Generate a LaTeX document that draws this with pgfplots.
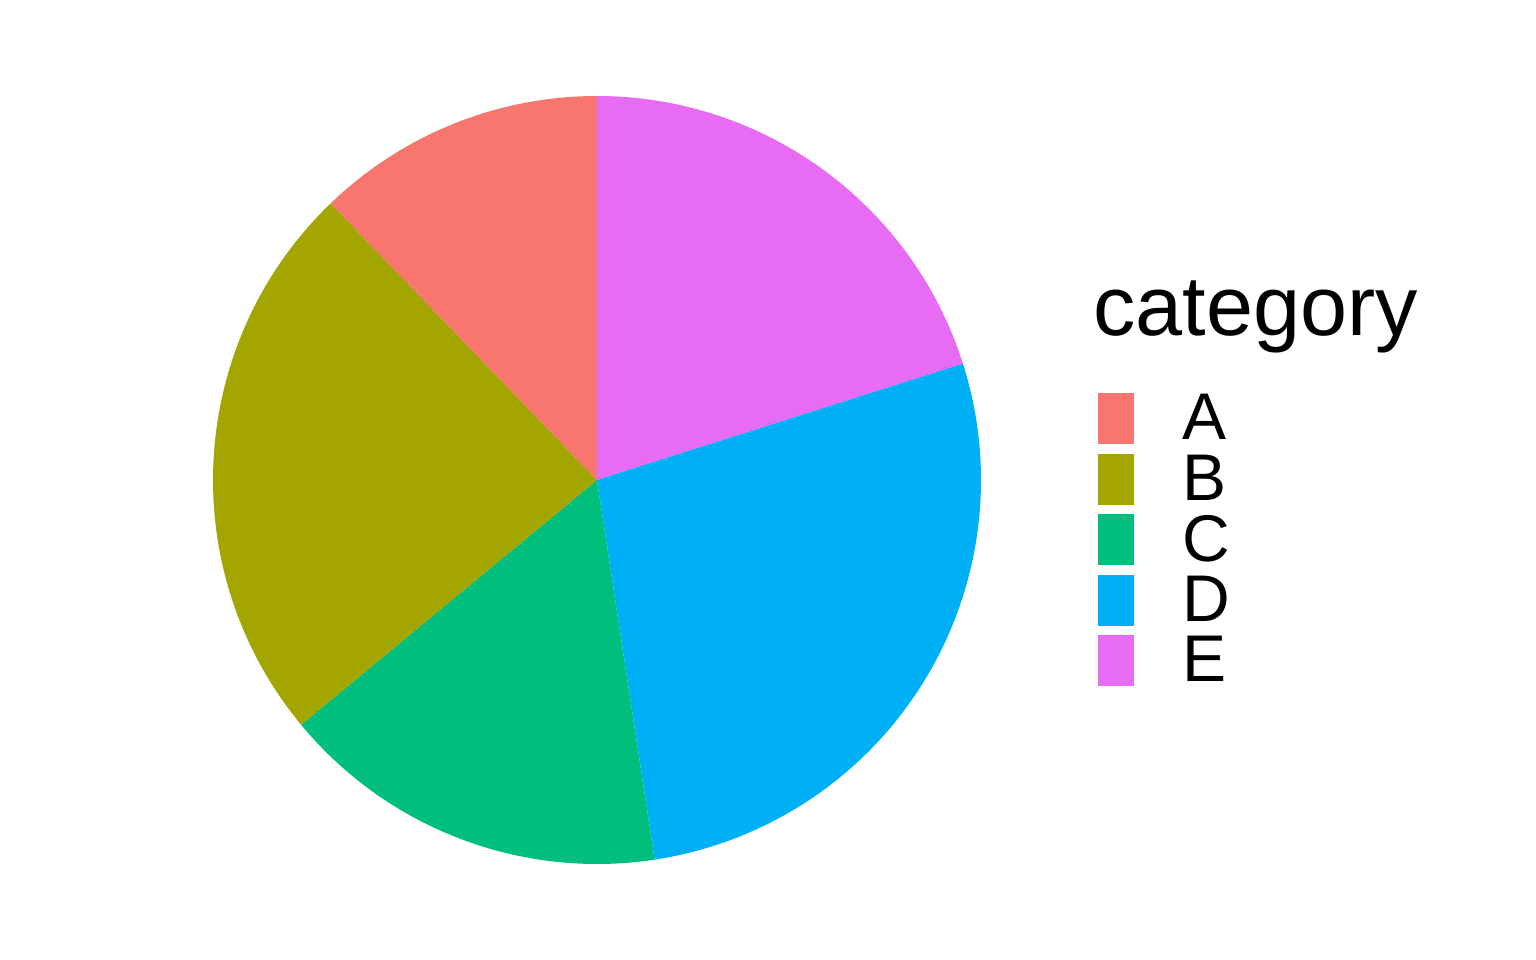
\documentclass[border=0pt]{standalone}
\usepackage{pgfplots}
\usepackage{pgfplotstable}
\pgfplotsset{compat=1.18}
\usepackage{fontspec}
\setmainfont{Liberation Sans}
\definecolor{colA}{HTML}{F8766D}
\definecolor{colB}{HTML}{A3A500}
\definecolor{colC}{HTML}{00BF7D}
\definecolor{colD}{HTML}{00B0F6}
\definecolor{colE}{HTML}{E76BF3}
\pgfplotstableread{
cat value
A 12.2
B 23.8
C 16.4
D 27.5
E 20.1
}\piedata
\pgfplotstablegetelem{0}{value}\of\piedata \let\valA\pgfplotsretval
\pgfplotstablegetelem{1}{value}\of\piedata \let\valB\pgfplotsretval
\pgfplotstablegetelem{2}{value}\of\piedata \let\valC\pgfplotsretval
\pgfplotstablegetelem{3}{value}\of\piedata \let\valD\pgfplotsretval
\pgfplotstablegetelem{4}{value}\of\piedata \let\valE\pgfplotsretval
\pgfmathsetmacro{\tot}{\valA+\valB+\valC+\valD+\valE}
% clockwise from 12 o'clock: E, D, C, B, A
\pgfmathsetmacro{\aE}{90}
\pgfmathsetmacro{\aD}{\aE-360*\valE/\tot}
\pgfmathsetmacro{\aC}{\aD-360*\valD/\tot}
\pgfmathsetmacro{\aB}{\aC-360*\valC/\tot}
\pgfmathsetmacro{\aA}{\aB-360*\valB/\tot}
\pgfmathsetmacro{\aEnd}{\aA-360*\valA/\tot}
\newcommand{\slice}[3]{%
  \fill[#1] (axis cs:0,0) -- (axis cs:{cos(#2)},{sin(#2)}) arc[start angle=#2, end angle=#3, radius=192bp] -- cycle;}
\begin{document}
\begin{tikzpicture}
\useasboundingbox (-298.5bp,-240bp) rectangle (469.5bp,240bp);
\begin{axis}[
  x=192bp, y=192bp,
  xmin=-1, xmax=1, ymin=-1, ymax=1,
  hide axis, clip=false,
  anchor=origin, at={(0,0)},
  legend cell align=left,
  legend style={draw=none, fill=none, inner sep=0pt, outer sep=0pt,
    at={(1.1523,0.6133)}, anchor=north west,
    font=\fontsize{33bp}{40bp}\selectfont,
    row sep=4.9bp, column sep=0pt,
    nodes={inner sep=0pt, outer sep=0pt}},
]
\slice{colE}{\aE}{\aD}
\slice{colD}{\aD}{\aC}
\slice{colC}{\aC}{\aB}
\slice{colB}{\aB}{\aA}
\slice{colA}{\aA}{\aEnd}
\addlegendimage{legend image code/.code={\fill[colA] (0bp,-12.5bp) rectangle (17.5bp,12.5bp); \path (42bp,0bp);}}
\addlegendentry{A}
\addlegendimage{legend image code/.code={\fill[colB] (0bp,-12.5bp) rectangle (17.5bp,12.5bp); \path (42bp,0bp);}}
\addlegendentry{B}
\addlegendimage{legend image code/.code={\fill[colC] (0bp,-12.5bp) rectangle (17.5bp,12.5bp); \path (42bp,0bp);}}
\addlegendentry{C}
\addlegendimage{legend image code/.code={\fill[colD] (0bp,-12.5bp) rectangle (17.5bp,12.5bp); \path (42bp,0bp);}}
\addlegendentry{D}
\addlegendimage{legend image code/.code={\fill[colE] (0bp,-12.5bp) rectangle (17.5bp,12.5bp); \path (42bp,0bp);}}
\addlegendentry{E}
\end{axis}
\node[anchor=base west, inner sep=0pt, font=\fontsize{42.3bp}{50bp}\selectfont] at (248bp,72bp) {category};
\end{tikzpicture}
\end{document}
